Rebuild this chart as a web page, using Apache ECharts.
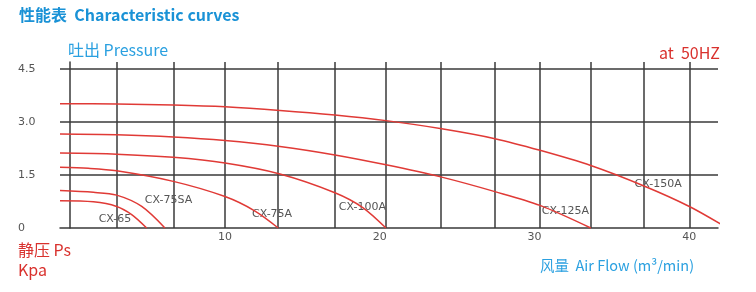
<!DOCTYPE html>
<html><head><meta charset="utf-8">
<script src="https://cdn.jsdelivr.net/npm/echarts@6/dist/echarts.min.js"></script>
<style>html,body{margin:0;padding:0;background:#fff}#c{width:756px;height:292px}</style>
</head><body><div id="c"></div>
<script>
// ---- data (air flow m3/min vs static pressure kPa) ----
const models = ['CX-150A', 'CX-125A', 'CX-100A', 'CX-75A', 'CX-75SA', 'CX-65'];
const flow150 = [-0.66, 3.0, 6.66, 10.0, 13.55, 17.1, 20.4, 24.0, 27.44, 30.35, 33.63, 37.07, 40.0, 42.3];
const pres150 = [3.52, 3.51, 3.48, 3.43, 3.33, 3.20, 3.04, 2.81, 2.53, 2.20, 1.77, 1.19, 0.61, 0.04];
const flow125 = [-0.66, 3.0, 6.66, 10.0, 13.55, 17.1, 20.4, 24.0, 27.44, 30.35, 33.63];
const pres125 = [2.66, 2.64, 2.58, 2.48, 2.31, 2.07, 1.79, 1.44, 1.03, 0.64, 0];
const flow100 = [-0.66, 3.0, 6.66, 10.0, 13.55, 17.1, 18.9, 20.4];
const pres100 = [2.12, 2.09, 2.0, 1.84, 1.53, 1.0, 0.58, 0];
const flow75 = [-0.66, 1.17, 3.0, 6.66, 10.0, 11.94, 13.44];
const pres75 = [1.72, 1.69, 1.62, 1.32, 0.89, 0.48, 0];
const flow75s = [-0.66, 1.5, 3.0, 4.62, 6.12];
const pres75s = [1.06, 1.01, 0.93, 0.61, 0];
const flow65 = [-0.66, 1.5, 3.0, 3.97, 4.94];
const pres65 = [0.77, 0.74, 0.61, 0.38, 0];
const xTickLabels = [10, 20, 30, 40];
const yTickLabels = [0, 1.5, 3.0, 4.5];
const gridFlow = [3.0, 6.66, 10, 13.44, 17.1, 20.38, 23.95, 27.44, 30.35, 33.62, 37.05, 40.0];
const gridPres = [1.5, 3.0, 4.5];

// ---- chart ----
const flows = [flow150, flow125, flow100, flow75, flow75s, flow65];
const press = [pres150, pres125, pres100, pres75, pres75s, pres65];
const labelAt = [[37.98, 1.25], [31.99, 0.47], [18.88, 0.58], [13.04, 0.38], [6.35, 0.80], [2.89, 0.26]];
const BLUE = '#1a92d6', LBLUE = '#2aa0e0', RED = '#d9312d', GRID = '#3a3a3a';
const CJK = '"Noto Sans CJK SC", "Noto Sans", sans-serif';

const series = models.map((m, i) => ({
  name: m, type: 'line', smooth: 0.3, showSymbol: false, clip: false, z: 5,
  lineStyle: { color: '#e03a36', width: 1.5 },
  data: flows[i].map((f, j) => [f, press[i][j]]),
  markPoint: {
    symbol: 'circle', symbolSize: 1, itemStyle: { color: 'rgba(0,0,0,0)' },
    label: { show: true, position: 'inside', formatter: m, color: '#555', fontSize: 11, fontFamily: 'DejaVu Sans' },
    data: [{ coord: labelAt[i] }]
  }
}));
series.push({
  name: 'grid', type: 'line', data: [], z: 1, silent: true,
  markLine: {
    silent: true, symbol: 'none', label: { show: false },
    lineStyle: { color: GRID, width: 1.5, type: 'solid' },
    data: gridFlow.map(v => ({ xAxis: v })).concat(gridPres.map(v => ({ yAxis: v })))
  }
});

const chart = echarts.init(document.getElementById('c'), null, { renderer: 'canvas' });
chart.setOption({
  animation: false,
  backgroundColor: '#fff',
  title: [
    { text: '性能表  Characteristic curves', left: 19, top: 7, padding: 0,
      textStyle: { fontSize: 16, fontWeight: 'bold', color: BLUE, fontFamily: CJK } },
    { text: '吐出 Pressure', left: 68, top: 42, padding: 0,
      textStyle: { fontSize: 16, fontWeight: 'normal', color: LBLUE, fontFamily: CJK } },
    { text: 'at  50HZ', right: 36, top: 45, padding: 0,
      textStyle: { fontSize: 16, fontWeight: 'normal', color: RED, fontFamily: CJK } },
    { text: '静压 Ps\nKpa', left: 18, top: 240, padding: 0,
      textStyle: { fontSize: 16, fontWeight: 'normal', color: RED, fontFamily: CJK, lineHeight: 20 } },
    { text: '风量  Air Flow (m³/min)', left: 540, top: 258, padding: 0,
      textStyle: { fontSize: 14.5, fontWeight: 'normal', color: LBLUE, fontFamily: CJK } }
  ],
  grid: { left: 60, right: 38, top: 62, bottom: 64, containLabel: false },
  xAxis: {
    type: 'value', min: -0.66, max: 41.85,
    axisLine: { show: true, lineStyle: { color: GRID, width: 1.5 } },
    axisTick: { show: false },
    splitLine: { show: false },
    axisLabel: { customValues: xTickLabels, color: '#555', fontSize: 11, fontFamily: 'DejaVu Sans', margin: 4 }
  },
  yAxis: {
    type: 'value', min: 0, max: 4.7,
    axisLine: { show: true, lineStyle: { color: GRID, width: 1.5 } },
    axisTick: { show: false },
    splitLine: { show: false },
    axisLabel: { customValues: yTickLabels, color: '#555', fontSize: 11, fontFamily: 'DejaVu Sans',
      margin: 42, align: 'left', formatter: v => v === 0 ? '0' : v.toFixed(1) }
  },
  series: series
});
</script></body></html>
